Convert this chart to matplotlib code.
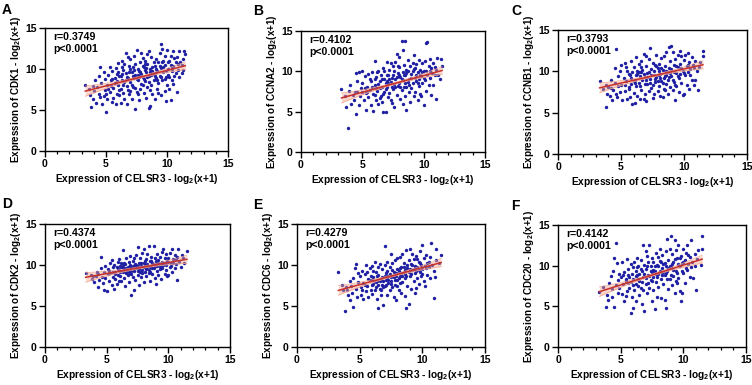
import numpy as np
import matplotlib
matplotlib.use("Agg")
import matplotlib.pyplot as plt
from matplotlib.ticker import MultipleLocator

plt.rcParams['font.family'] = ['Liberation Sans', 'DejaVu Sans']
plt.rcParams['font.weight'] = 'bold'
plt.rcParams['mathtext.fontset'] = 'custom'
plt.rcParams['mathtext.rm'] = 'Liberation Sans:bold'
plt.rcParams['mathtext.it'] = 'Liberation Sans:bold'
plt.rcParams['mathtext.bf'] = 'Liberation Sans:bold'

# ---------------- data ----------------
panel_letters = ['A', 'B', 'C', 'D', 'E', 'F']
genes = ['CDK1', 'CCNA2', 'CCNB1', 'CDK2', 'CDC6', 'CDC20']
r_values = ['0.3749', '0.4102', '0.3793', '0.4374', '0.4279', '0.4142']
p_text = 'p<0.0001'
x_gene = 'CELSR3'
ticks = [0, 5, 10, 15]

# regression lines: (y at x=3.3, y at x=11.5)
fit_x = [3.3, 11.5]
fit_cdk1 = [7.3, 10.4]
fit_ccna2 = [6.7, 10.1]
fit_ccnb1 = [8.0, 10.8]
fit_cdk2 = [8.5, 10.7]
fit_cdc6 = [6.9, 10.3]
fit_cdc20 = [6.8, 10.8]

pts_cdk1 = [
(3.3,8.1),(3.6,7.6),(3.8,5.4),(3.9,6.3),(3.9,7.9),(3.7,6.8),
(4.0,7.3),(4.1,8.6),(4.2,5.8),(4.3,7.8),(4.4,9.1),(4.5,10.2),(4.5,6.6),(4.6,8.3),(4.7,5.7),(4.8,6.7),(4.8,9.6),(4.9,7.5),(4.9,8.8),(4.4,7.0),
(5.0,4.8),(5.1,6.4),(5.1,8.0),(5.2,9.3),(5.3,10.3),(5.3,7.2),(5.4,8.6),(5.5,6.0),(5.5,9.8),(5.6,7.7),(5.7,8.9),(5.8,5.7),(5.8,10.1),(5.9,7.0),(5.9,9.4),(5.6,6.5),(5.2,7.6),(5.7,8.3),
(6.0,10.7),(6.0,8.1),(6.1,6.8),(6.1,9.2),(6.2,5.9),(6.2,7.6),(6.3,11.0),(6.3,8.7),(6.4,9.9),(6.4,7.1),(6.5,8.4),(6.5,6.3),(6.6,12.0),(6.6,9.5),(6.7,5.7),(6.7,7.9),(6.8,11.5),(6.8,8.9),(6.9,10.4),(6.9,6.9),(6.3,10.2),(6.7,9.0),(6.0,9.6),(6.5,10.6),(6.8,7.4),
(7.0,11.2),(7.0,8.4),(7.1,9.6),(7.1,6.4),(7.2,10.3),(7.2,7.8),(7.3,8.9),(7.3,11.6),(7.4,5.1),(7.4,9.3),(7.5,12.3),(7.5,7.2),(7.6,10.0),(7.6,8.6),(7.7,6.2),(7.7,9.8),(7.8,10.8),(7.8,7.6),(7.9,11.9),(7.9,8.2),(7.2,9.1),(7.5,8.8),(7.4,10.6),(7.0,7.3),(7.6,6.9),(7.9,9.4),
(8.0,11.3),(8.0,9.0),(8.1,7.1),(8.1,10.2),(8.2,8.5),(8.2,11.0),(8.3,6.5),(8.3,9.6),(8.4,10.6),(8.4,7.8),(8.5,12.2),(8.5,5.3),(8.5,9.2),(8.6,5.5),(8.6,10.0),(8.7,11.5),(8.7,8.1),(8.8,9.7),(8.8,6.9),(8.9,10.9),(8.9,8.7),(8.2,9.9),(8.6,7.4),(8.0,8.0),(8.4,11.8),(8.7,9.3),
(9.0,6.3),(9.0,10.4),(9.1,8.9),(9.1,11.2),(9.2,7.6),(9.2,9.8),(9.3,10.8),(9.3,8.3),(9.4,11.9),(9.4,9.2),(9.5,13.0),(9.5,6.8),(9.5,10.1),(9.6,12.5),(9.6,8.6),(9.7,9.6),(9.7,11.0),(9.8,7.3),(9.8,10.5),(9.9,6.1),(9.9,9.0),(9.3,7.1),(9.6,10.9),(9.0,9.5),(9.8,11.6),
(10.0,12.3),(10.0,8.1),(10.1,10.0),(10.1,9.3),(10.2,11.0),(10.2,7.6),(10.3,6.2),(10.3,11.6),(10.4,9.7),(10.4,8.6),(10.5,12.2),(10.5,8.2),(10.5,10.4),(10.6,9.1),(10.7,10.9),(10.8,11.5),(10.8,7.2),(10.9,9.9),(10.3,10.5),(10.6,11.3),
(11.0,12.2),(11.0,9.0),(11.1,10.8),(11.2,10.5),(11.3,11.2),(11.4,12.2),(11.5,11.8),(11.2,9.5),
(5.4,7.9),(5.9,8.5),(6.1,7.4),(6.4,8.0),(6.6,8.6),(6.9,9.6),(7.1,8.1),(7.3,9.9),(7.4,7.7),(7.7,9.0),(7.8,9.6),(8.0,10.4),(8.1,8.8),(8.3,10.1),(8.4,9.0),(8.6,9.6),(8.8,10.3),(8.9,9.4),(9.1,10.0),(9.2,8.6),(9.4,10.4),(9.5,9.0),(9.7,10.3),(9.9,9.8),(10.1,10.8),(10.2,9.0),(10.4,10.1),(10.7,9.5),(6.2,9.1),(7.0,10.0),(5.0,7.0),(5.5,8.8),(8.5,8.4),(9.0,9.1),(7.6,9.3),(6.3,9.4),(8.2,10.6),(9.8,8.8),(10.9,10.6),(11.3,9.9)]

pts_ccna2 = [
(3.3,7.8),(3.7,5.6),(3.8,3.0),(3.9,7.6),(3.6,6.9),
(4.0,8.3),(4.1,6.0),(4.3,6.5),(4.4,7.4),(4.5,4.7),(4.5,9.8),(4.6,8.8),(4.7,9.9),(4.8,6.9),(4.9,7.9),(4.2,7.1),(4.7,5.8),
(5.0,8.5),(5.1,6.4),(5.2,9.4),(5.3,5.2),(5.3,7.3),(5.4,8.1),(5.5,9.7),(5.5,6.8),(5.6,7.7),(5.7,5.8),(5.7,8.8),(5.8,9.9),(5.9,5.1),(5.9,7.2),(5.2,7.9),(5.6,9.0),(5.0,10.0),
(6.0,11.3),(6.0,8.3),(6.1,6.5),(6.1,9.3),(6.2,7.6),(6.3,10.1),(6.3,5.9),(6.4,8.8),(6.5,7.0),(6.5,9.6),(6.6,6.2),(6.6,8.1),(6.7,5.0),(6.7,10.4),(6.8,7.5),(6.8,9.1),(6.9,4.9),(6.9,8.6),(6.2,9.9),(6.4,6.7),(6.0,7.1),(6.8,10.0),
(7.0,11.1),(7.0,8.0),(7.1,9.5),(7.1,6.8),(7.2,7.3),(7.2,10.2),(7.3,11.0),(7.3,8.7),(7.4,6.1),(7.4,9.2),(7.5,7.8),(7.5,10.6),(7.6,8.4),(7.6,5.6),(7.7,11.1),(7.7,9.0),(7.8,12.2),(7.8,7.1),(7.9,9.8),(7.9,8.2),(7.3,6.5),(7.0,9.6),(7.6,10.0),
(8.0,10.5),(8.0,8.6),(8.1,6.6),(8.1,9.3),(8.2,13.7),(8.2,7.7),(8.3,12.7),(8.3,9.9),(8.4,8.1),(8.4,10.8),(8.5,13.7),(8.5,6.9),(8.5,9.5),(8.6,5.2),(8.6,10.2),(8.7,8.7),(8.7,11.4),(8.8,7.4),(8.8,9.1),(8.9,10.6),(8.9,6.2),(8.3,5.9),(8.0,11.8),(8.6,8.0),
(9.0,9.7),(9.0,7.9),(9.1,11.0),(9.1,8.5),(9.2,6.9),(9.2,10.3),(9.3,9.2),(9.3,7.5),(9.4,10.9),(9.4,8.8),(9.5,6.4),(9.5,9.9),(9.6,11.4),(9.6,8.2),(9.7,10.2),(9.7,7.2),(9.8,9.4),(9.9,11.0),(9.9,8.6),(9.2,12.0),(9.8,6.9),
(10.0,5.8),(10.0,10.0),(10.1,8.9),(10.1,11.3),(10.2,13.5),(10.2,7.6),(10.3,13.6),(10.3,9.6),(10.4,10.7),(10.4,8.3),(10.5,11.5),(10.5,9.2),(10.6,7.1),(10.6,10.4),(10.7,9.8),(10.8,8.3),(10.8,11.0),(10.9,9.5),
(11.0,6.6),(11.0,10.2),(11.1,11.6),(11.2,9.6),(11.3,9.0),(11.4,11.5),(11.5,10.7),
(5.4,7.5),(5.8,8.1),(6.1,7.9),(6.3,8.4),(6.6,9.0),(6.9,7.8),(7.1,8.6),(7.2,9.0),(7.4,8.0),(7.5,9.5),(7.7,8.1),(7.8,9.3),(8.0,9.6),(8.1,8.0),(8.2,9.1),(8.4,9.6),(8.5,8.5),(8.6,9.8),(8.7,10.1),(8.8,8.3),(9.0,9.2),(9.1,10.0),(9.3,10.4),(9.4,9.6),(9.6,9.0),(9.7,9.5),(9.9,9.9),(10.0,9.2),(10.2,10.1),(10.5,10.0),(6.0,9.0),(6.7,7.2),(7.9,10.6),(8.3,8.9),(9.5,8.6),(5.0,7.4),(4.6,7.5),(10.9,10.5),(7.0,8.8),(6.4,7.9)]

pts_ccnb1 = [
(3.3,8.8),(3.6,7.9),(3.8,5.7),(3.9,7.2),(3.8,8.4),
(4.0,8.1),(4.1,7.0),(4.2,9.0),(4.3,6.5),(4.4,7.7),(4.5,10.4),(4.5,8.6),(4.6,12.7),(4.7,6.9),(4.8,9.4),(4.9,7.5),(4.9,10.1),(4.2,8.0),(4.6,7.3),
(5.0,10.8),(5.0,8.3),(5.1,6.5),(5.2,9.2),(5.3,11.0),(5.3,7.6),(5.4,8.8),(5.5,6.6),(5.5,10.0),(5.6,7.9),(5.7,9.5),(5.7,6.9),(5.8,11.3),(5.8,8.5),(5.9,6.0),(5.9,9.9),(5.4,10.5),(5.6,8.1),
(6.0,10.5),(6.0,7.4),(6.1,6.2),(6.1,9.0),(6.2,8.2),(6.2,11.7),(6.3,9.7),(6.3,7.0),(6.4,10.9),(6.4,8.6),(6.5,6.7),(6.5,9.4),(6.6,11.2),(6.6,7.8),(6.7,10.2),(6.7,8.9),(6.8,6.6),(6.8,12.1),(6.9,9.3),(6.9,7.3),(6.3,10.1),(6.0,8.8),(6.6,9.9),
(7.0,6.4),(7.0,10.6),(7.1,8.5),(7.1,9.8),(7.2,11.5),(7.2,7.6),(7.3,12.8),(7.3,9.1),(7.4,10.3),(7.4,8.0),(7.5,6.8),(7.5,11.0),(7.6,9.6),(7.6,7.2),(7.7,10.8),(7.7,8.7),(7.8,12.0),(7.8,9.3),(7.9,7.6),(7.9,10.4),(7.2,9.9),(7.5,8.3),(7.0,11.9),
(8.0,10.9),(8.0,8.2),(8.1,7.0),(8.1,9.7),(8.2,11.6),(8.2,8.8),(8.3,6.9),(8.3,10.2),(8.4,9.2),(8.4,11.9),(8.5,7.7),(8.5,10.7),(8.6,8.5),(8.6,12.3),(8.7,9.9),(8.7,7.3),(8.8,12.9),(8.8,10.4),(8.9,8.1),(8.9,11.2),(8.0,9.5),(8.4,7.9),(8.6,9.6),
(9.0,13.1),(9.0,9.4),(9.1,12.3),(9.1,7.8),(9.2,10.8),(9.2,8.7),(9.3,6.5),(9.3,11.5),(9.4,9.8),(9.4,8.2),(9.5,10.5),(9.5,12.0),(9.6,7.5),(9.6,9.2),(9.7,12.5),(9.7,10.9),(9.8,8.6),(9.8,11.8),(9.9,10.1),(9.9,7.1),
(10.0,7.2),(10.0,11.4),(10.1,9.6),(10.1,12.0),(10.2,8.4),(10.2,10.6),(10.3,12.2),(10.3,9.9),(10.4,11.1),(10.4,7.9),(10.5,10.3),(10.6,9.0),(10.6,11.7),(10.7,10.8),(10.8,8.3),(10.9,8.9),(10.9,11.3),
(11.0,10.0),(11.1,7.8),(11.2,10.5),(11.3,11.1),(11.5,12.4),(11.5,11.9),
(5.3,8.4),(5.8,9.2),(6.1,8.6),(6.2,9.5),(6.5,8.2),(6.8,9.7),(6.9,8.5),(7.1,9.3),(7.3,8.6),(7.4,9.6),(7.6,10.1),(7.7,9.1),(7.9,8.8),(8.0,10.0),(8.1,9.2),(8.2,10.4),(8.3,8.6),(8.5,9.4),(8.6,10.1),(8.7,8.9),(8.9,9.8),(9.0,10.3),(9.1,9.0),(9.2,9.9),(9.4,10.6),(9.5,9.4),(9.7,9.7),(9.8,10.4),(10.0,9.8),(10.3,10.8),(10.5,9.6),(6.4,9.9),(7.0,9.0),(7.8,10.6),(8.8,9.3),(5.6,9.7),(4.8,8.2),(10.8,10.4),(9.3,8.4),(6.6,10.5)]

pts_cdk2 = [
(3.3,9.0),(3.7,8.8),(3.8,8.3),(3.9,8.6),
(4.0,7.9),(4.1,8.7),(4.2,9.2),(4.3,7.3),(4.4,8.2),(4.5,11.0),(4.5,9.6),(4.6,8.5),(4.7,7.8),(4.8,7.0),(4.8,9.1),(4.9,8.4),(4.9,9.9),(4.3,8.9),
(5.0,6.8),(5.1,8.9),(5.1,9.5),(5.2,8.1),(5.3,10.2),(5.3,9.0),(5.4,7.6),(5.5,9.7),(5.5,8.5),(5.6,7.1),(5.6,10.0),(5.7,9.2),(5.7,8.3),(5.8,9.8),(5.9,10.4),(5.9,8.8),(5.2,9.3),(5.4,10.6),(5.8,7.7),
(6.0,9.4),(6.0,10.7),(6.1,8.6),(6.1,9.9),(6.2,8.0),(6.2,10.3),(6.3,11.8),(6.3,9.1),(6.4,9.6),(6.4,8.4),(6.5,10.1),(6.5,7.4),(6.6,9.3),(6.6,10.8),(6.7,8.8),(6.7,9.8),(6.8,7.9),(6.8,10.4),(6.9,9.0),(6.9,11.1),(6.3,10.0),(6.6,9.0),(6.0,8.1),(6.8,9.5),
(7.0,6.4),(7.0,9.7),(7.1,8.5),(7.1,10.5),(7.2,6.9),(7.2,9.3),(7.3,10.1),(7.3,8.2),(7.4,11.2),(7.4,9.6),(7.5,12.2),(7.5,8.8),(7.6,10.3),(7.6,7.6),(7.7,9.1),(7.7,10.9),(7.8,8.5),(7.8,9.9),(7.9,11.5),(7.9,9.4),(7.2,10.8),(7.5,9.9),(7.0,8.9),(7.6,9.5),
(8.0,7.9),(8.0,11.9),(8.0,10.2),(8.1,9.1),(8.2,10.7),(8.2,8.6),(8.3,9.8),(8.3,11.3),(8.4,12.3),(8.4,9.4),(8.5,8.1),(8.5,10.5),(8.6,9.9),(8.6,11.0),(8.7,8.9),(8.7,10.3),(8.8,12.3),(8.8,9.6),(8.9,10.8),(8.9,8.4),(8.1,10.0),(8.5,9.2),
(9.0,7.7),(9.0,10.1),(9.1,11.4),(9.1,9.3),(9.2,8.8),(9.2,10.6),(9.3,9.9),(9.3,11.0),(9.4,8.3),(9.4,10.3),(9.5,9.6),(9.5,11.6),(9.6,12.0),(9.6,10.0),(9.7,8.9),(9.7,10.8),(9.8,9.4),(9.8,11.3),(9.9,10.5),(9.9,8.6),(9.3,9.5),
(10.0,8.8),(10.0,10.9),(10.1,9.8),(10.1,11.5),(10.2,10.3),(10.3,12.0),(10.3,9.2),(10.4,10.7),(10.5,11.2),(10.5,9.6),(10.6,10.1),(10.7,8.2),(10.7,11.0),(10.8,11.9),(10.9,10.4),
(11.0,9.8),(11.1,11.2),(11.2,10.8),(11.3,10.2),(11.5,11.7),
(5.5,9.1),(5.9,9.5),(6.1,9.2),(6.3,9.6),(6.4,10.3),(6.6,9.6),(6.8,9.2),(6.9,10.0),(7.0,9.3),(7.1,9.9),(7.3,9.6),(7.4,10.0),(7.5,9.3),(7.7,9.7),(7.8,10.3),(7.9,9.0),(8.0,9.7),(8.1,10.5),(8.2,9.5),(8.3,10.1),(8.4,9.0),(8.5,9.8),(8.6,10.5),(8.7,9.6),(8.8,10.1),(8.9,9.9),(9.0,10.5),(9.1,9.9),(9.2,10.2),(9.4,9.8),(9.5,10.4),(9.7,10.3),(9.8,10.0),(10.0,10.4),(10.2,9.9),(10.4,10.2),(10.6,10.7),(6.2,9.8),(7.2,9.7),(5.7,8.9)]

pts_cdc6 = [
(3.3,9.1),(3.6,7.6),(3.8,4.4),(3.9,7.3),(3.7,6.9),
(4.0,7.0),(4.1,6.3),(4.2,8.0),(4.3,7.4),(4.4,6.6),(4.5,4.9),(4.5,8.4),(4.6,9.6),(4.7,10.1),(4.7,7.1),(4.8,6.1),(4.9,7.9),(4.9,9.0),(4.2,5.7),
(5.0,8.6),(5.1,7.3),(5.1,6.4),(5.2,9.3),(5.3,5.8),(5.3,7.8),(5.4,8.9),(5.5,6.8),(5.5,10.0),(5.6,7.5),(5.7,8.3),(5.7,6.1),(5.8,9.6),(5.9,7.0),(5.9,8.7),(5.2,7.0),(5.6,9.1),
(6.0,6.5),(6.0,9.9),(6.1,7.7),(6.1,8.5),(6.2,6.9),(6.2,10.4),(6.3,7.3),(6.3,9.2),(6.4,8.0),(6.4,5.9),(6.5,4.7),(6.5,8.8),(6.6,7.1),(6.6,10.1),(6.7,6.3),(6.7,8.3),(6.8,9.5),(6.8,7.6),(6.9,5.1),(6.9,8.1),(6.3,7.9),(6.0,8.2),(6.7,7.0),(6.5,9.7),
(7.0,12.3),(7.0,7.4),(7.1,9.0),(7.1,8.2),(7.2,6.4),(7.2,10.4),(7.3,7.8),(7.3,8.7),(7.4,9.7),(7.4,6.9),(7.5,11.3),(7.5,8.0),(7.6,7.3),(7.6,9.4),(7.7,6.1),(7.7,8.5),(7.8,10.6),(7.8,7.6),(7.9,9.0),(7.9,5.7),(7.2,8.4),(7.5,7.7),(7.0,10.0),(7.6,10.3),
(8.0,8.2),(8.0,10.9),(8.1,9.3),(8.1,7.0),(8.2,8.6),(8.2,11.0),(8.3,6.6),(8.3,9.8),(8.4,11.4),(8.4,7.9),(8.5,9.1),(8.5,10.2),(8.6,6.2),(8.6,8.4),(8.7,11.8),(8.7,4.8),(8.8,9.6),(8.8,7.5),(8.9,5.2),(8.9,10.6),(8.2,9.6),(8.6,8.9),(8.0,7.5),
(9.0,12.0),(9.0,8.7),(9.1,10.1),(9.1,7.1),(9.2,9.4),(9.2,11.4),(9.3,8.0),(9.3,10.7),(9.4,6.6),(9.4,9.0),(9.5,7.2),(9.5,11.1),(9.6,9.8),(9.6,8.4),(9.7,10.4),(9.7,7.7),(9.8,11.7),(9.8,9.2),(9.9,8.6),(9.9,10.0),(9.3,9.5),
(10.0,12.5),(10.0,9.5),(10.1,8.1),(10.1,10.8),(10.2,9.9),(10.2,7.4),(10.3,11.2),(10.4,8.8),(10.4,10.3),(10.5,9.7),(10.6,11.0),(10.6,8.4),(10.7,12.7),(10.8,10.0),(10.9,6.0),(10.9,9.3),
(11.0,8.5),(11.1,12.0),(11.1,10.6),(11.3,10.3),(11.5,11.2),
(5.4,7.6),(5.8,8.2),(6.0,7.6),(6.2,8.1),(6.4,8.6),(6.6,8.0),(6.8,8.5),(6.9,7.3),(7.0,8.6),(7.1,7.6),(7.3,8.2),(7.4,8.9),(7.5,8.5),(7.7,9.2),(7.8,8.2),(7.9,8.7),(8.0,9.5),(8.1,8.4),(8.3,9.0),(8.4,8.6),(8.5,9.7),(8.6,9.4),(8.7,8.7),(8.8,10.0),(8.9,9.1),(9.0,9.5),(9.1,8.9),(9.2,10.0),(9.4,9.9),(9.5,9.3),(9.7,9.4),(9.8,10.2),(10.0,8.9),(10.3,9.6),(10.5,10.4),(6.5,7.6),(7.2,9.3),(8.2,7.8),(9.6,10.7),(6.1,9.3)]

pts_cdc20 = [
(3.3,6.8),(3.6,7.4),(3.8,4.9),(3.9,6.4),
(4.0,5.8),(4.1,7.9),(4.2,8.7),(4.3,7.1),(4.4,9.4),(4.5,4.9),(4.5,11.0),(4.6,12.8),(4.6,7.6),(4.7,10.3),(4.8,6.6),(4.8,8.2),(4.9,9.0),(4.9,7.2),(4.3,6.1),
(5.0,8.6),(5.1,6.5),(5.1,10.4),(5.2,7.7),(5.3,9.2),(5.3,5.7),(5.4,8.1),(5.5,10.8),(5.5,6.9),(5.6,9.6),(5.7,7.3),(5.7,8.6),(5.8,4.2),(5.8,10.2),(5.9,6.2),(5.9,9.0),(5.2,8.9),(5.6,7.9),(5.4,6.3),
(6.0,4.8),(6.0,8.3),(6.1,10.5),(6.1,7.0),(6.2,9.4),(6.2,5.6),(6.3,8.8),(6.3,11.0),(6.4,7.5),(6.4,9.9),(6.5,6.4),(6.5,8.1),(6.6,10.7),(6.6,7.2),(6.7,9.3),(6.7,5.3),(6.8,12.5),(6.8,8.6),(6.9,4.4),(6.9,10.1),(6.2,7.8),(6.5,9.0),(6.0,9.8),(6.8,7.0),
(7.0,7.7),(7.0,9.6),(7.1,11.2),(7.1,6.6),(7.2,8.9),(7.2,10.4),(7.3,12.6),(7.3,7.2),(7.4,8.2),(7.4,9.9),(7.5,5.7),(7.5,10.9),(7.6,8.6),(7.6,7.0),(7.7,4.7),(7.7,9.4),(7.8,11.5),(7.8,8.0),(7.9,10.1),(7.9,6.2),(7.2,7.9),(7.5,9.2),(7.0,11.8),(7.6,10.5),
(8.0,9.0),(8.0,7.4),(8.1,12.1),(8.1,10.6),(8.2,8.4),(8.2,6.0),(8.3,9.7),(8.3,11.3),(8.4,7.7),(8.4,10.2),(8.5,8.9),(8.5,5.8),(8.6,4.8),(8.6,11.8),(8.7,13.3),(8.7,9.3),(8.8,7.1),(8.8,10.7),(8.9,8.3),(8.9,12.0),(8.2,9.2),(8.6,10.0),(8.0,11.1),
(9.0,13.6),(9.0,9.8),(9.1,7.6),(9.1,11.4),(9.2,8.7),(9.2,10.5),(9.3,13.2),(9.3,6.6),(9.4,9.4),(9.4,11.9),(9.5,7.9),(9.5,10.9),(9.6,12.5),(9.6,8.5),(9.7,9.9),(9.7,6.9),(9.8,5.6),(9.8,11.2),(9.9,6.6),(9.9,10.3),(9.4,8.1),
(10.0,12.1),(10.0,9.1),(10.1,10.7),(10.1,7.9),(10.2,11.6),(10.3,12.5),(10.3,9.5),(10.4,10.2),(10.5,8.6),(10.5,11.1),(10.6,13.1),(10.6,9.8),(10.7,10.5),(10.8,8.5),(10.9,11.4),(10.9,9.9),
(11.0,7.0),(11.1,10.8),(11.2,11.9),(11.4,10.1),(11.5,13.7),(11.5,12.1),
(5.4,8.4),(5.8,8.0),(6.0,7.6),(6.2,8.7),(6.4,8.3),(6.6,9.6),(6.7,8.0),(6.9,9.0),(7.0,8.5),(7.1,9.9),(7.3,8.7),(7.4,9.3),(7.5,8.1),(7.7,10.0),(7.8,9.0),(7.9,8.6),(8.0,10.0),(8.1,9.4),(8.2,10.4),(8.3,8.8),(8.4,9.2),(8.5,10.3),(8.7,8.4),(8.8,9.7),(8.9,9.9),(9.0,8.9),(9.1,10.2),(9.2,9.5),(9.3,10.8),(9.5,9.1),(9.6,10.2),(9.7,11.0),(9.9,9.4),(10.0,10.5),(10.2,9.7),(10.4,11.3),(6.3,9.8),(7.6,9.5),(8.6,9.1),(5.6,8.8)]

points = [pts_cdk1, pts_ccna2, pts_ccnb1, pts_cdk2, pts_cdc6, pts_cdc20]
fits = [fit_cdk1, fit_ccna2, fit_ccnb1, fit_cdk2, fit_cdc6, fit_cdc20]

# ---------------- layout (pixel boxes: left, right, top, bottom) ----------------
W, H = 752, 385
boxes = [(45, 228, 28, 151), (301, 485, 31, 152), (558, 747, 30, 154),
         (45, 230, 224, 347), (297, 485, 224, 347), (558, 746, 225, 347)]
letter_pos = [(2, 3), (253, 4), (511, 4), (2, 197), (253, 198), (511, 199)]
ylabel_gap_px = 22

fig = plt.figure(figsize=(W / 100, H / 100), dpi=100)
fig.patch.set_facecolor('white')

pt_color = '#1f1fa3'
line_color = '#c8302a'
band_color = '#f2a68c'

for i in range(6):
    l, r, t, b = boxes[i]
    ax = fig.add_axes([l / W, 1 - b / H, (r - l) / W, (b - t) / H])
    arr = np.array(points[i])
    ax.scatter(arr[:, 0], arr[:, 1], s=6, color=pt_color, linewidths=0, zorder=3)

    fx = np.array(fit_x)
    fy = np.array(fits[i])
    xx = np.linspace(fx[0], fx[1], 50)
    yy = np.interp(xx, fx, fy)
    xm = arr[:, 0].mean()
    hw = 0.12 + 0.025 * (xx - xm) ** 2
    ax.fill_between(xx, yy - hw, yy + hw, color=band_color, alpha=0.45, lw=0, zorder=4)
    ax.plot(xx, yy + hw, color=band_color, lw=0.5, zorder=4)
    ax.plot(xx, yy - hw, color=band_color, lw=0.5, zorder=4)
    ax.plot(fx, fy, color=line_color, lw=1.1, zorder=5)

    ax.set_xlim(0, 15)
    ax.set_ylim(0, 15)
    ax.set_xticks(ticks)
    ax.set_yticks(ticks)
    ax.xaxis.set_minor_locator(MultipleLocator(1))
    ax.tick_params(axis='both', which='major', direction='out', length=4, width=1,
                   labelsize=7.5, pad=2)
    ax.tick_params(axis='x', which='minor', direction='out', length=2.2, width=0.9)
    for lab in ax.get_xticklabels() + ax.get_yticklabels():
        lab.set_fontweight('bold')
    for s in ax.spines.values():
        s.set_linewidth(1.0)
        s.set_color('black')

    ax.set_xlabel('Expression of ' + x_gene + ' - log$_{2}$(x+1)', fontsize=7.3,
                  fontweight='bold', labelpad=2)
    ax.set_ylabel('Expression of ' + genes[i] + ' - log$_{2}$(x+1)', fontsize=7.1,
                  fontweight='bold')
    ax.yaxis.set_label_coords(-ylabel_gap_px / (r - l), 0.5)
    ax.text(0.045, 0.97, 'r=' + r_values[i] + '\n' + p_text, transform=ax.transAxes,
            ha='left', va='top', fontsize=7.6, fontweight='bold', linespacing=1.25)

    lx, ly = letter_pos[i]
    fig.text(lx / W, 1 - ly / H, panel_letters[i], fontsize=10,
             fontweight='bold', ha='left', va='top')

fig.savefig('out.png', dpi=100, facecolor='white')
